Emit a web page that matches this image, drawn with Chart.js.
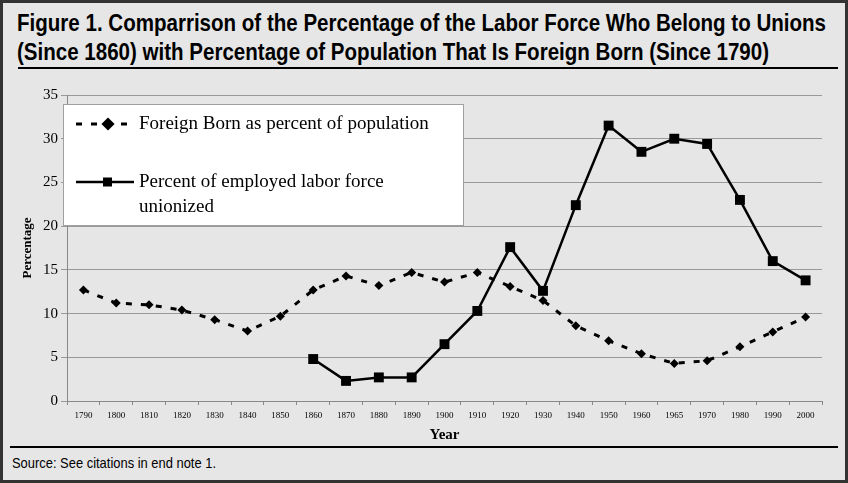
<!DOCTYPE html>
<html>
<head>
<meta charset="utf-8">
<script src="https://cdn.jsdelivr.net/npm/chart.js@4/dist/chart.umd.min.js"></script>
<style>
  html, body { margin: 0; padding: 0; }
  body { width: 848px; height: 483px; background: #e6e6e6; position: relative; overflow: hidden; }
  .frame { position: absolute; left: 0; top: 0; width: 842px; height: 477px; border: 3px solid #333; }
  .title { position: absolute; left: 17px; top: 8px; font: bold 24px "Liberation Sans", Arial, sans-serif; line-height: 29px; color: #000; white-space: nowrap; transform-origin: 0 0; }
  .rule { position: absolute; left: 18px; width: 820px; height: 2px; background: #000; }
  .source { position: absolute; left: 12px; top: 454px; font: 15px "Liberation Sans", Arial, sans-serif; color: #000; white-space: nowrap; transform-origin: 0 0; }
  .plot { position: absolute; left: 0; top: 72px; width: 848px; height: 372px; }
</style>
</head>
<body>
<div class="frame"></div>
<div class="title" id="title">Figure 1. Comparrison of the Percentage of the Labor Force Who Belong to Unions<br>(Since 1860) with Percentage of Population That Is Foreign Born (Since 1790)</div>
<div class="rule" style="top:67px"></div>
<div class="plot"><canvas id="chart"></canvas></div>
<div class="rule" style="top:446px; left:10px; width:828px"></div>
<div class="source" id="source">Source: See citations in end note 1.</div>
<script>
const years = ['1790', '1800', '1810', '1820', '1830', '1840', '1850', '1860', '1870', '1880', '1890', '1900',
  '1910', '1920', '1930', '1940', '1950', '1960', '1965', '1970', '1980', '1990', '2000'];
const foreignBorn = [12.7, 11.2, 11.0, 10.4, 9.3, 8.0, 9.7, 12.7, 14.3, 13.2, 14.7, 13.6,
  14.7, 13.1, 11.5, 8.6, 6.9, 5.4, 4.3, 4.6, 6.2, 7.9, 9.6];
const unionized = [null, null, null, null, null, null, null, 4.8, 2.3, 2.7, 2.7, 6.5,
  10.3, 17.6, 12.6, 22.4, 31.5, 28.5, 30.0, 29.4, 23.0, 16.0, 13.8];
const yTicks = [0, 5, 10, 15, 20, 25, 30, 35];
const seriesNames = ['Foreign Born as percent of population', ['Percent of employed labor force', 'unionized']];

// no narrow font installed, so squeeze the sans text to the reference width
function squeeze(el, target) {
  el.style.transform = 'scaleX(' + (target / el.getBoundingClientRect().width) + ')';
}
squeeze(document.getElementById('title'), 809);
squeeze(document.getElementById('source'), 204);

const serif = '"Liberation Serif", "Times New Roman", serif';
const dash = [6, 9];

const legendBox = {
  id: 'legendBox',
  afterDraw(chart) {
    const { ctx, chartArea: a } = chart;
    const x = a.left - 4, y = a.top + 9, w = 400, h = 121;
    ctx.save();
    ctx.fillStyle = '#fff';
    ctx.fillRect(x, y, w, h);
    ctx.strokeStyle = '#a0a0a0';
    ctx.lineWidth = 1;
    ctx.strokeRect(x + 0.5, y + 0.5, w, h);
    ctx.strokeStyle = '#000';
    ctx.fillStyle = '#000';
    // entry 1: dashed line with diamond
    let cy = y + 20;
    ctx.lineWidth = 3;
    ctx.setLineDash(dash);
    ctx.beginPath(); ctx.moveTo(x + 13, cy); ctx.lineTo(x + 71, cy); ctx.stroke();
    ctx.setLineDash([]);
    Chart.helpers.drawPoint(ctx, { pointStyle: 'rectRot', radius: 4.5, borderWidth: 1 }, x + 45, cy);
    ctx.fill();
    // entry 2: solid line with square
    cy = y + 78;
    ctx.lineWidth = 2.5;
    ctx.beginPath(); ctx.moveTo(x + 13, cy); ctx.lineTo(x + 71, cy); ctx.stroke();
    ctx.fillRect(x + 40, cy - 4.5, 9, 9);
    ctx.font = '19px ' + serif;
    ctx.textBaseline = 'middle';
    ctx.fillText(seriesNames[0], x + 76, y + 20);
    ctx.fillText(seriesNames[1][0], x + 76, y + 78);
    ctx.fillText(seriesNames[1][1], x + 76, y + 103);
    ctx.restore();
  }
};

new Chart(document.getElementById('chart'), {
  type: 'line',
  data: {
    labels: years,
    datasets: [
      {
        label: 'Foreign Born as percent of population',
        data: foreignBorn,
        borderColor: '#000', backgroundColor: '#000',
        borderWidth: 3, borderDash: dash,
        pointStyle: 'rectRot', pointRadius: 4.5, pointBorderWidth: 0,
        tension: 0,
      },
      {
        label: 'Percent of employed labor force unionized',
        data: unionized,
        borderColor: '#000', backgroundColor: '#000',
        borderWidth: 2.5,
        pointStyle: 'rect', pointRadius: 7, pointBorderWidth: 0,
        tension: 0,
      },
    ],
  },
  options: {
    responsive: true, maintainAspectRatio: false, animation: false,
    layout: { padding: { left: 16, right: 26, top: 23, bottom: 0 } },
    plugins: { legend: { display: false }, tooltip: { enabled: false } },
    scales: {
      x: {
        offset: true,
        grid: { drawOnChartArea: false, offset: true, tickLength: 4, color: '#888' },
        border: { color: '#888' },
        ticks: { font: { family: serif, size: 9 }, color: '#000', maxRotation: 0, autoSkip: false, padding: 5 },
        title: { display: true, text: 'Year', font: { family: serif, size: 15, weight: 'bold' }, color: '#000', padding: { top: 4, bottom: 0 } },
        afterFit(scale) { scale.height = 43; },
      },
      y: {
        min: 0, max: 35,
        afterBuildTicks(scale) { scale.ticks = yTicks.map(v => ({ value: v })); },
        grid: { color: '#999', tickLength: 6 },
        border: { color: '#888' },
        ticks: { font: { family: serif, size: 15 }, color: '#000', padding: 3 },
        title: { display: true, text: 'Percentage', font: { family: serif, size: 13, weight: 'bold' }, color: '#000', padding: { bottom: 4 } },
        afterFit(scale) { scale.width = 51; },
      },
    },
  },
  plugins: [legendBox],
});
</script>
</body>
</html>
